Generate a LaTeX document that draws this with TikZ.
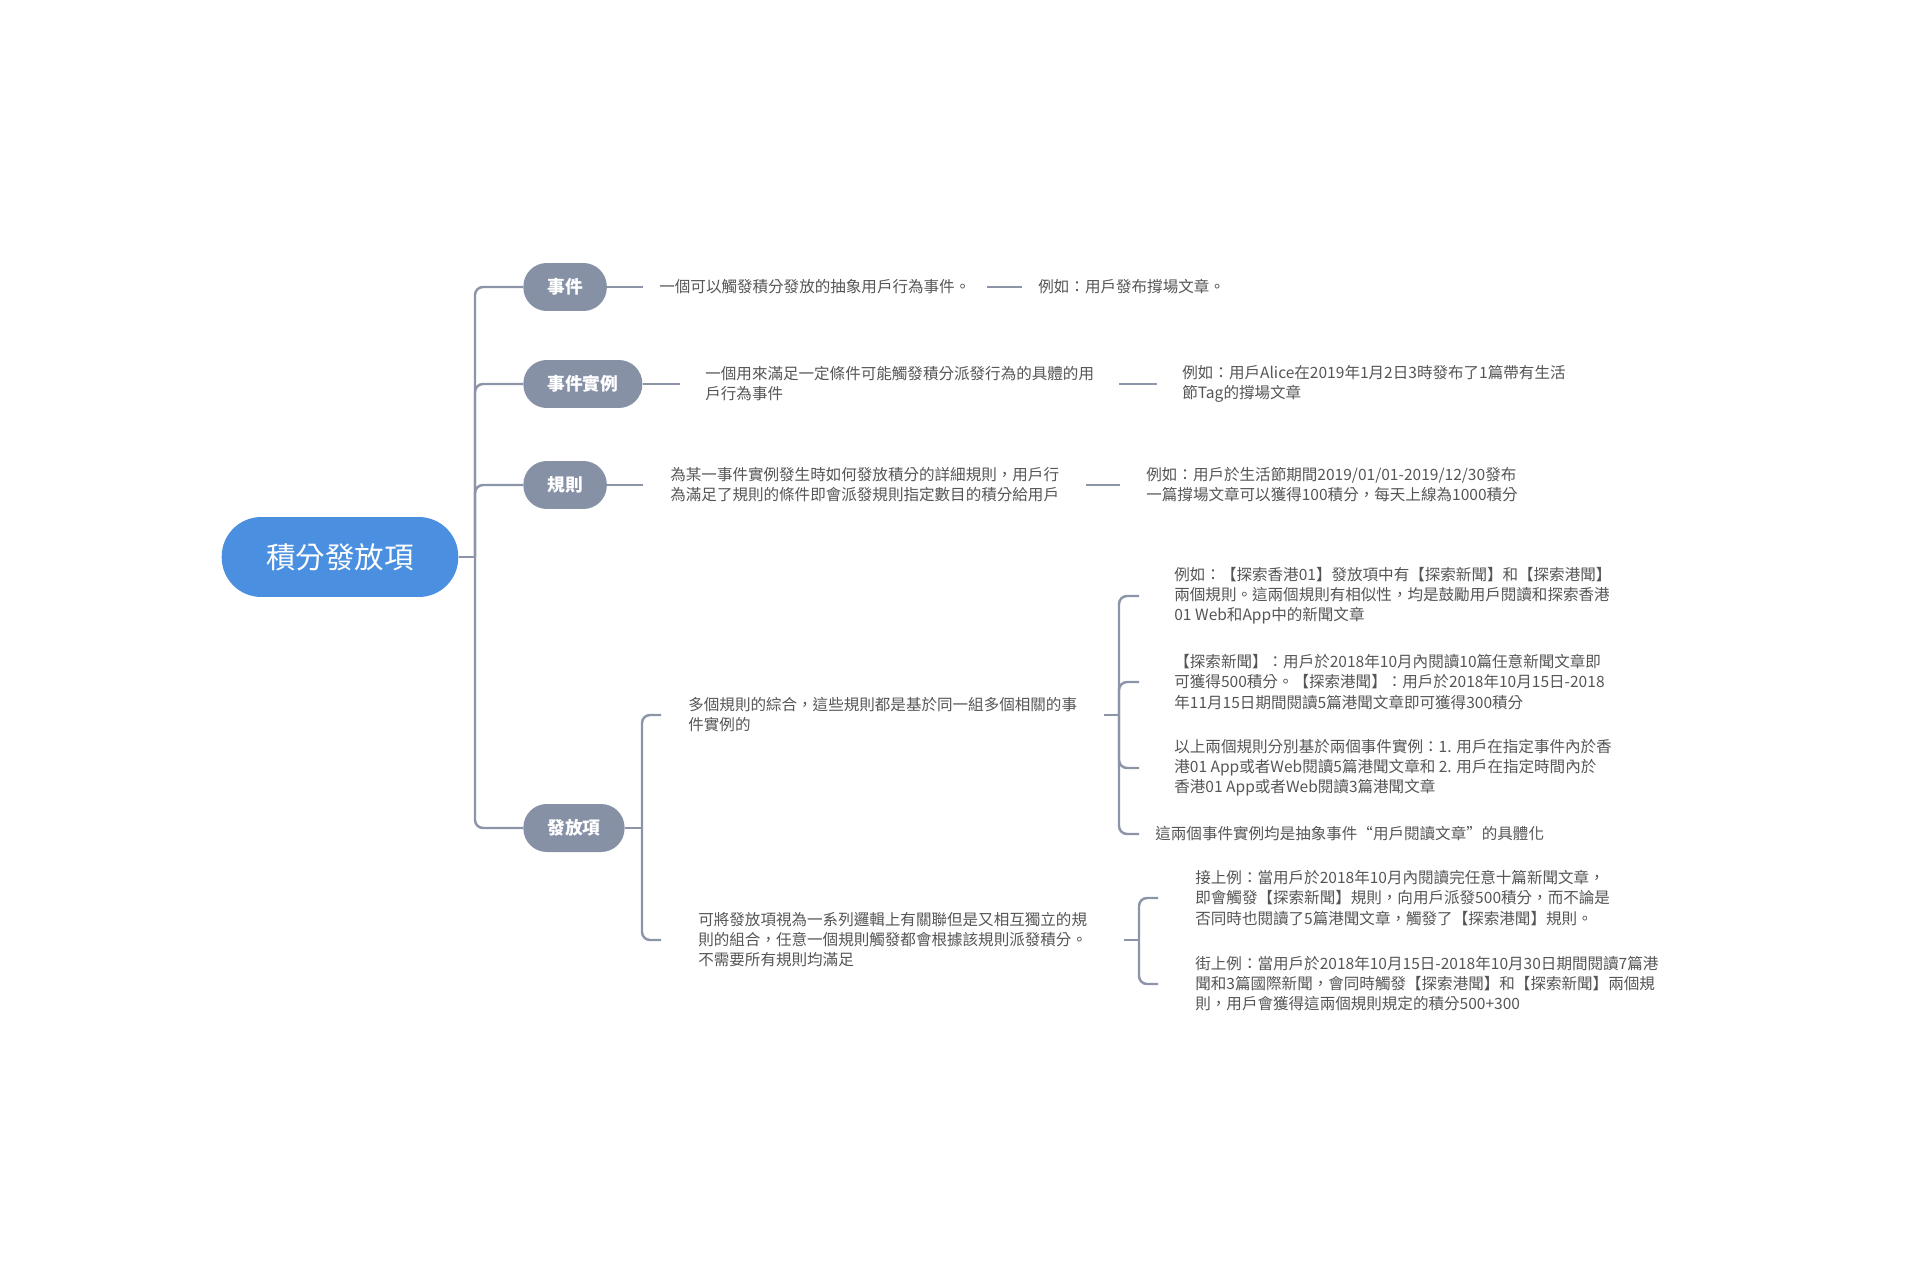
\documentclass[tikz,border=0pt]{standalone}
\usepackage{fontspec}
\usepackage{xcolor}
\usepackage{tikz}
\usetikzlibrary{positioning}
\setmainfont{Noto Sans CJK TC}
\definecolor{rootblue}{HTML}{4A8FE0}
\definecolor{topicgray}{HTML}{8791A6}
\definecolor{linegray}{HTML}{8C95A8}
\definecolor{textgray}{HTML}{555555}

\begin{document}
\begin{tikzpicture}[x=0.02cm, y=-0.02cm,
    root/.style={rectangle, rounded corners=0.79cm, fill=rootblue, text=white, minimum height=1.6cm, inner xsep=0.89cm, font=\fontsize{16.8}{20}\selectfont},
    topic/.style={rectangle, rounded corners=0.47cm, fill=topicgray, text=white, minimum height=0.96cm, inner xsep=0.48cm, anchor=west, font=\bfseries\fontsize{10.1}{12}\selectfont},
    desc/.style={align=left, text=textgray, anchor=west, inner ysep=0pt, inner xsep=#1, font=\fontsize{8.85}{11.4}\selectfont},
    desc/.default=0.32cm,
    branch/.style={draw=linegray, line width=1.4pt, rounded corners=0.16cm}
]
\useasboundingbox (0,0) rectangle (1920,1280);

% Root
\node[root] (root) at (340,557) {積分發放項};

% Topics
\node[topic] (event) at (523,287) {事件};
\node[topic] (inst) at (523,384) {事件實例};
\node[topic] (rule) at (523,485) {規則};
\node[topic] (item) at (523,828) {發放項};

% Descriptions and examples
\node[desc] (eventd) at (643,287) {一個可以觸發積分發放的抽象用戶行為事件。};
\node[desc] (evente) at (1022,287) {例如：用戶發布撐場文章。};
\node[desc=0.5cm] (instd) at (680,384) {一個用來滿足一定條件可能觸發積分派發行為的具體的用\\戶行為事件};
\node[desc=0.5cm] (inste) at (1157,384) {例如：用戶Alice在2019年1月2日3時發布了1篇帶有生活\\節Tag的撐場文章};
\node[desc=0.54cm] (ruled) at (643,485) {為某一事件實例發生時如何發放積分的詳細規則，用戶行\\為滿足了規則的條件即會派發規則指定數目的積分給用戶};
\node[desc=0.52cm] (rulee) at (1120,485) {例如：用戶於生活節期間2019/01/01-2019/12/30發布\\一篇撐場文章可以獲得100積分，每天上線為1000積分};

% Item branches
\node[desc=0.54cm] (multi) at (661,715) {多個規則的綜合，這些規則都是基於同一組多個相關的事\\件實例的};
\node[desc=0.74cm] (indep) at (661,940) {可將發放項視為一系列邏輯上有關聯但是又相互獨立的規\\則的組合，任意一個規則觸發都會根據該規則派發積分。\\不需要所有規則均滿足};

\node[desc=0.7cm] (multia) at (1139,596) {例如：【探索香港01】發放項中有【探索新聞】和【探索港聞】\\兩個規則。這兩個規則有相似性，均是鼓勵用戶閱讀和探索香港\\01 Web和App中的新聞文章};
\node[desc=0.7cm] (multib) at (1139,682) {【探索新聞】：用戶於2018年10月內閱讀10篇任意新聞文章即\\可獲得500積分。【探索港聞】：用戶於2018年10月15日-2018\\年11月15日期間閱讀5篇港聞文章即可獲得300積分};
\node[desc=0.7cm] (multic) at (1139,768) {以上兩個規則分別基於兩個事件實例：1. 用戶在指定事件內於香\\港01 App或者Web閱讀5篇港聞文章和 2. 用戶在指定時間內於\\香港01 App或者Web閱讀3篇港聞文章};
\node[desc] (multid) at (1139,834) {這兩個事件實例均是抽象事件“用戶閱讀文章”的具體化};

\node[desc=0.74cm] (indepa) at (1158,898) {接上例：當用戶於2018年10月內閱讀完任意十篇新聞文章，\\即會觸發【探索新聞】規則，向用戶派發500積分，而不論是\\否同時也閱讀了5篇港聞文章，觸發了【探索港聞】規則。};
\node[desc=0.74cm] (indepb) at (1158,984) {街上例：當用戶於2018年10月15日-2018年10月30日期間閱讀7篇港\\聞和3篇國際新聞，會同時觸發【探索港聞】和【探索新聞】兩個規\\則，用戶會獲得這兩個規則規定的積分500+300};

% Junctions
\coordinate (trunk) at (475,557);
\coordinate (itemj) at (642,828);
\coordinate (multij) at (1119,715);
\coordinate (indepj) at (1139,940);

% Connectors
\draw[branch] (root.east) -- (trunk);
\foreach \t in {event,inst,rule,item}
    \draw[branch] (trunk) |- (\t.west);

\draw[branch] (event.east) -- (eventd.west);
\draw[branch] (eventd.east) -- (evente.west);
\draw[branch] (inst.east) -- (instd.west);
\draw[branch] (instd.east) -- (inste.west);
\draw[branch] (rule.east) -- (ruled.west);
\draw[branch] (ruled.east) -- (rulee.west);

\draw[branch] (item.east) -- (itemj);
\foreach \t in {multi,indep}
    \draw[branch] (itemj) |- (\t.west);

\draw[branch] (multi.east) -- (multij);
\foreach \t in {multia,multib,multic,multid}
    \draw[branch] (multij) |- (\t.west);

\draw[branch] (indep.east) -- (indepj);
\foreach \t in {indepa,indepb}
    \draw[branch] (indepj) |- (\t.west);

\end{tikzpicture}
\end{document}
